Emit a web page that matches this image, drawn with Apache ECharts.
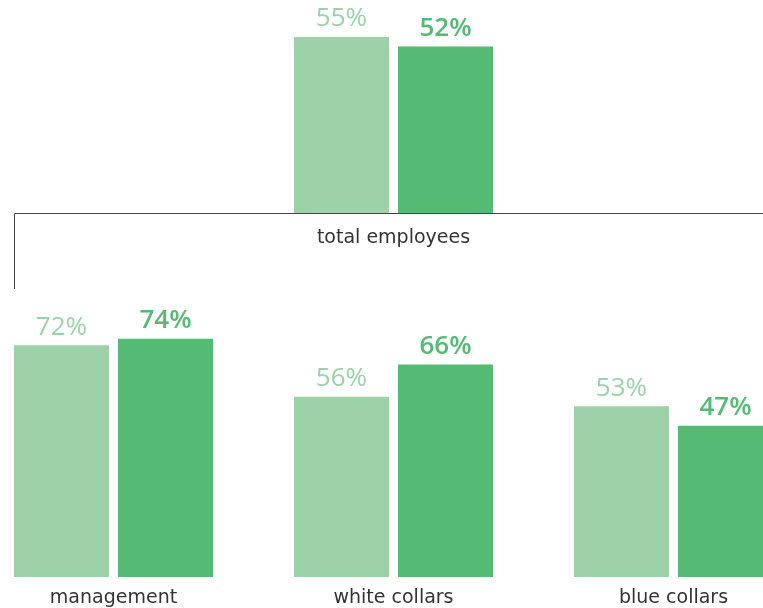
<!DOCTYPE html>
<html><head><meta charset="utf-8">
<script src="https://cdn.jsdelivr.net/npm/echarts@6/dist/echarts.min.js"></script>
<style>html,body{margin:0;padding:0;background:#fff;overflow:hidden;width:763px;height:608px}#c{position:absolute;left:-27px;top:0;width:841px;height:608px}</style>
</head><body><div id="c"></div>
<script>
// Data
const topCategories = ['total employees'];
const topLight = [55];
const topDark = [52];
const groupCategories = ['management', 'white collars', 'blue collars'];
const groupLight = [72, 56, 53];
const groupDark = [74, 66, 47];

const LIGHT = '#9dd2a8';
const DARK = '#54ba74';
const labelFont = '"Open Sans", sans-serif';
const catFont = '"DejaVu Sans", sans-serif';
const OFF = 27; // container offset (px) to the left of the window

function barSeries(data, xi, color, bold) {
  return {
    type: 'bar', xAxisIndex: xi, yAxisIndex: xi, data: data,
    barWidth: 95, barGap: '9.5%',
    itemStyle: { color: color },
    label: {
      show: true, position: 'top', distance: 5,
      formatter: p => p.value + '%',
      color: color, fontFamily: labelFont, fontSize: 26,
      fontWeight: bold ? 600 : 400
    },
    silent: true, animation: false
  };
}

const chart = echarts.init(document.getElementById('c'), null, { renderer: 'canvas' });
chart.setOption({
  animation: false,
  grid: [
    { left: 253.5 + OFF, width: 280, top: 21, height: 192 },
    { left: 0.5, width: 840, top: 319.4, height: 257.6 }
  ],
  xAxis: [
    { gridIndex: 0, type: 'category', data: topCategories,
      axisLine: { show: false }, axisTick: { show: false },
      axisLabel: { margin: 16, fontFamily: catFont, fontSize: 19, color: '#333' } },
    { gridIndex: 1, type: 'category', data: groupCategories,
      axisLine: { show: false }, axisTick: { show: false },
      axisLabel: { margin: 12, fontFamily: catFont, fontSize: 19, color: '#333' } }
  ],
  yAxis: [
    { gridIndex: 0, type: 'value', min: 0, max: 60, show: false, splitLine: { show: false } },
    { gridIndex: 1, type: 'value', min: 0, max: 80, show: false, splitLine: { show: false } }
  ],
  series: [
    barSeries(topLight, 0, LIGHT, false),
    barSeries(topDark, 0, DARK, true),
    barSeries(groupLight, 1, LIGHT, false),
    barSeries(groupDark, 1, DARK, true)
  ],
  graphic: [{
    type: 'polyline', silent: true,
    shape: { points: [[14.5 + OFF, 289], [14.5 + OFF, 213.5], [763 + OFF, 213.5]] },
    style: { stroke: '#444', lineWidth: 1, fill: null }
  }]
});
</script>
</body></html>
